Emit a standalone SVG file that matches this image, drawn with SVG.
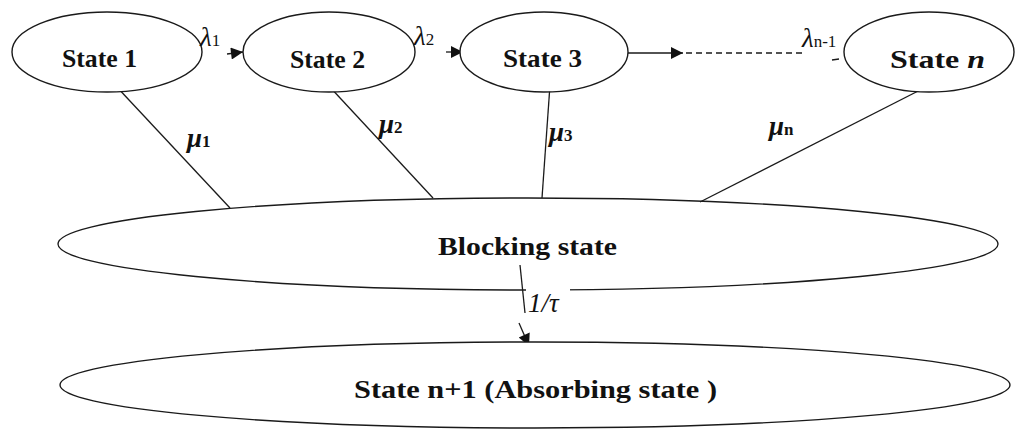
<svg xmlns="http://www.w3.org/2000/svg" width="1018" height="430" viewBox="0 0 1018 430">
<defs>
<style>
.node{fill:#fff;stroke:#1a1a1a;stroke-width:1.4}
.lbl{font-family:"Liberation Serif","DejaVu Serif",serif;font-weight:bold;font-size:26px;fill:#111;text-anchor:start}
.gr{font-family:"Liberation Serif","DejaVu Serif",serif;font-style:italic;font-size:27px;fill:#111}
.sub{font-style:normal;font-size:17px}
.ln{stroke:#1a1a1a;stroke-width:1.3;fill:none}
.dash{stroke:#1a1a1a;stroke-width:1.3;fill:none;stroke-dasharray:6 4}
</style>
<marker id="ahL" viewBox="0 0 10 10" refX="10" refY="5" markerWidth="15" markerHeight="12" markerUnits="userSpaceOnUse" orient="auto">
<path d="M0,0 L10,5 L0,10 Z" fill="#111"/>
</marker>
</defs>
<rect width="1018" height="430" fill="#fff"/>

<g id="connectors">
<line class="ln" x1="115" y1="85" x2="230" y2="208"/>
<line class="ln" x1="328" y1="85" x2="433" y2="198"/>
<line class="ln" x1="550" y1="85" x2="542" y2="198"/>
<line class="ln" x1="928" y1="86" x2="700" y2="202"/>
<line class="ln" x1="193" y1="48" x2="199" y2="48"/>
<line class="ln" x1="227" y1="54" x2="243" y2="52" marker-end="url(#ahL)"/>
<line class="ln" x1="446" y1="52" x2="463" y2="52" marker-end="url(#ahL)"/>
<line class="ln" x1="628" y1="53" x2="683" y2="53" marker-end="url(#ahL)"/>
<line class="dash" x1="686" y1="53" x2="802" y2="53"/>
<line class="ln" x1="832" y1="60" x2="839" y2="59"/>
<line class="ln" x1="520" y1="265" x2="525" y2="313"/>
<line class="ln" x1="519" y1="323" x2="529" y2="346" marker-end="url(#ahL)"/>
</g>

<g id="blocking">
<ellipse class="node" cx="528" cy="244" rx="470" ry="46" style="fill:none"/>
<text class="lbl" x="438" y="255" textLength="179" lengthAdjust="spacingAndGlyphs">Blocking state</text>
</g>

<g id="absorbing">
<ellipse class="node" cx="535" cy="385" rx="475" ry="43"/>
<text class="lbl" x="354" y="398" textLength="363" lengthAdjust="spacingAndGlyphs">State n+1 (Absorbing state )</text>
</g>

<g id="state1">
<ellipse class="node" cx="107" cy="52" rx="95" ry="40"/>
<text class="lbl" x="62" y="67" textLength="75" lengthAdjust="spacingAndGlyphs">State 1</text>
</g>
<g id="state2">
<ellipse class="node" cx="329" cy="52" rx="86" ry="40"/>
<text class="lbl" x="290" y="68" textLength="75" lengthAdjust="spacingAndGlyphs">State 2</text>
</g>
<g id="state3">
<ellipse class="node" cx="544" cy="52" rx="84" ry="40"/>
<text class="lbl" x="503" y="67" textLength="79" lengthAdjust="spacingAndGlyphs">State 3</text>
</g>
<g id="staten">
<ellipse class="node" cx="929" cy="52" rx="85" ry="40"/>
<text class="lbl" x="890" y="68" textLength="95" lengthAdjust="spacingAndGlyphs">State <tspan font-style="italic">n</tspan></text>
</g>

<g id="labels">
<text class="gr" x="200" y="46">λ<tspan class="sub">1</tspan></text>
<text class="gr" x="414" y="45">λ<tspan class="sub">2</tspan></text>
<text class="gr" x="802" y="47">λ<tspan class="sub" font-style="italic">n</tspan><tspan class="sub">-1</tspan></text>
<text class="gr" x="187" y="147" font-weight="bold">μ<tspan class="sub">1</tspan></text>
<text class="gr" x="379" y="133" font-weight="bold">μ<tspan class="sub">2</tspan></text>
<text class="gr" x="549" y="141" font-weight="bold">μ<tspan class="sub">3</tspan></text>
<text class="gr" x="769" y="135" font-weight="bold">μ<tspan class="sub" font-style="italic">n</tspan></text>
<rect x="526" y="286" width="44" height="8" fill="#fff"/>
<text class="gr" x="528" y="312">1/τ</text>
</g>
</svg>
